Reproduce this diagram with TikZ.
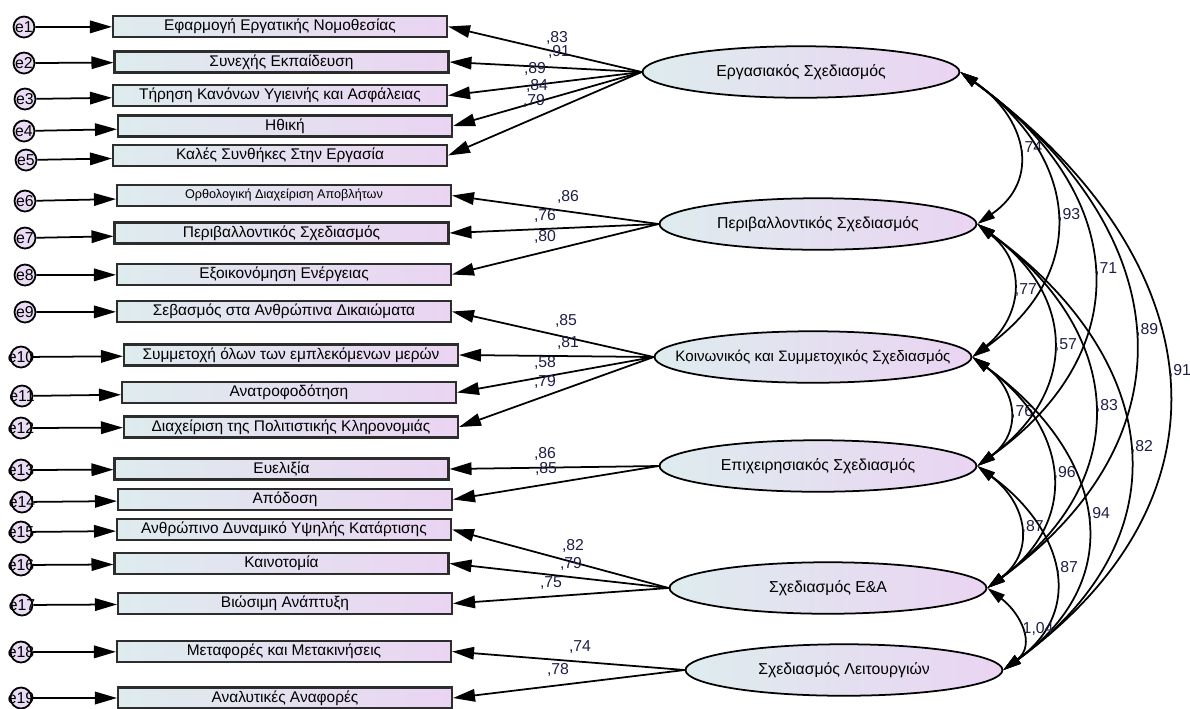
\documentclass[tikz,border=0pt]{standalone}
\usepackage{fontspec}
\setmainfont{Liberation Sans}
\usetikzlibrary{shapes.geometric,arrows.meta}

\definecolor{boxleft}{RGB}{222,236,238}
\definecolor{boxright}{RGB}{234,212,242}
\definecolor{boxline}{RGB}{45,45,45}
\definecolor{errfill}{RGB}{234,220,244}
\definecolor{coefcol}{RGB}{30,30,70}

\tikzset{
  indicator/.style={rectangle, draw=boxline, line width=1.2pt, left color=boxleft, right color=boxright,
    minimum width=6.68cm, minimum height=0.42cm, inner sep=0pt, font=\fontsize{8.8}{10}\selectfont},
  factor/.style={ellipse, draw=black, line width=1pt, left color=boxleft, right color=boxright,
    minimum width=6.34cm, minimum height=1.03cm, inner sep=0pt, font=\fontsize{9}{10}\selectfont},
  errterm/.style={circle, draw=black, line width=1pt, fill=errfill, minimum size=0.42cm,
    inner sep=0pt, font=\fontsize{9}{10}\selectfont},
  loading/.style={line width=1pt, -{Triangle[length=0.44cm,width=0.25cm]}},
  corr/.style={line width=1pt, {Triangle[length=0.36cm,width=0.2cm]}-{Triangle[length=0.36cm,width=0.2cm]}},
  coef/.style={font=\fontsize{9}{10}\selectfont, text=coefcol, inner sep=1pt}
}

\begin{document}
\begin{tikzpicture}[x=0.02cm, y=-0.02cm]
    \useasboundingbox (0,0) rectangle (1190,708);

    % Observed variables
    \node[indicator] (v1) at (280,26.5) {Εφαρμογή Εργατικής Νομοθεσίας};
    \node[indicator] (v2) at (281.5,62) {Συνεχής Εκπαίδευση};
    \node[indicator] (v3) at (280,95.5) {Τήρηση Κανόνων Υγιεινής και Ασφάλειας};
    \node[indicator] (v4) at (285,126) {Ηθική};
    \node[indicator] (v5) at (280,155.5) {Καλές Συνθήκες Στην Εργασία};
    \node[indicator, font=\fontsize{7.2}{8}\selectfont] (v6) at (284,195.5) {Ορθολογική Διαχείριση Αποβλήτων};
    \node[indicator] (v7) at (281.5,233) {Περιβαλλοντικός Σχεδιασμός};
    \node[indicator] (v8) at (284,274.5) {Εξοικονόμηση Ενέργειας};
    \node[indicator] (v9) at (284,311.5) {Σεβασμός στα Ανθρώπινα Δικαιώματα};
    \node[indicator] (v10) at (291,355) {Συμμετοχή όλων των εμπλεκόμενων μερών};
    \node[indicator] (v11) at (289,392.5) {Ανατροφοδότηση};
    \node[indicator] (v12) at (291,427) {Διαχείριση της Πολιτιστικής Κληρονομιάς};
    \node[indicator] (v13) at (281.5,469) {Ευελιξία};
    \node[indicator] (v14) at (285,499.5) {Απόδοση};
    \node[indicator] (v15) at (284,529.5) {Ανθρώπινο Δυναμικό Υψηλής Κατάρτισης};
    \node[indicator] (v16) at (281.5,563.5) {Καινοτομία};
    \node[indicator] (v17) at (285,603.5) {Βιώσιμη Ανάπτυξη};
    \node[indicator] (v18) at (284,651.5) {Μεταφορές και Μετακινήσεις};
    \node[indicator] (v19) at (285,698) {Αναλυτικές Αναφορές};

    % Error terms
    \node[errterm] (e1) at (24,27) {\makebox[0pt]{e1}};
    \node[errterm] (e2) at (24,63) {\makebox[0pt]{e2}};
    \node[errterm] (e3) at (25,99) {\makebox[0pt]{e3}};
    \node[errterm] (e4) at (24,131) {\makebox[0pt]{e4}};
    \node[errterm] (e5) at (26,160) {\makebox[0pt]{e5}};
    \node[errterm] (e6) at (25,201) {\makebox[0pt]{e6}};
    \node[errterm] (e7) at (25,238) {\makebox[0pt]{e7}};
    \node[errterm] (e8) at (25,275) {\makebox[0pt]{e8}};
    \node[errterm] (e9) at (25,312) {\makebox[0pt]{e9}};
    \node[errterm] (e10) at (21,357) {\makebox[0pt]{e10}};
    \node[errterm] (e11) at (22,396) {\makebox[0pt]{e11}};
    \node[errterm] (e12) at (21,428) {\makebox[0pt]{e12}};
    \node[errterm] (e13) at (21,470) {\makebox[0pt]{e13}};
    \node[errterm] (e14) at (22,502) {\makebox[0pt]{e14}};
    \node[errterm] (e15) at (21,532) {\makebox[0pt]{e15}};
    \node[errterm] (e16) at (21,565) {\makebox[0pt]{e16}};
    \node[errterm] (e17) at (22,605) {\makebox[0pt]{e17}};
    \node[errterm] (e18) at (21,652) {\makebox[0pt]{e18}};
    \node[errterm] (e19) at (21,698) {\makebox[0pt]{e19}};

    \foreach \i in {1,...,19}
        \draw[loading] (e\i) -- (v\i);

    % Latent factors
    \node[factor] (F1) at (801,72) {Εργασιακός Σχεδιασμός};
    \node[factor] (F2) at (818,224) {Περιβαλλοντικός Σχεδιασμός};
    \node[factor, font=\fontsize{8.6}{10}\selectfont] (F3) at (813,357) {\makebox[0pt]{Κοινωνικός και Συμμετοχικός Σχεδιασμός}};
    \node[factor] (F4) at (818,466) {Επιχειρησιακός Σχεδιασμός};
    \node[factor] (F5) at (828,588) {Σχεδιασμός Ε\&Α};
    \node[factor] (F6) at (844,670) {Σχεδιασμός Λειτουργιών};

    % Loadings
    \foreach \i in {1,...,5}
        \draw[loading] (F1.west) -- (v\i.east);
    \foreach \i in {6,7,8}
        \draw[loading] (F2.west) -- (v\i.east);
    \foreach \i in {9,...,12}
        \draw[loading] (F3.west) -- (v\i.east);
    \foreach \i in {13,14}
        \draw[loading] (F4.west) -- (v\i.east);
    \foreach \i in {15,16,17}
        \draw[loading] (F5.west) -- (v\i.east);
    \foreach \i in {18,19}
        \draw[loading] (F6.west) -- (v\i.east);

    \node[coef] (l1) at (557,38) {,83};
    \node[coef] (l2) at (559,52) {,91};
    \node[coef] (l3) at (535,69) {,89};
    \node[coef] (l4) at (537,86) {,84};
    \node[coef] (l5) at (534,101) {,79};
    \node[coef] (l6) at (568,197) {,86};
    \node[coef] (l7) at (545,216) {,76};
    \node[coef] (l8) at (545,237) {,80};
    \node[coef] (l9) at (566,321) {,85};
    \node[coef] (l10) at (568,343) {,81};
    \node[coef] (l11) at (545,363) {,58};
    \node[coef] (l12) at (545,382) {,79};
    \node[coef] (l13) at (545,454) {,86};
    \node[coef] (l14) at (546,469) {,85};
    \node[coef] (l15) at (573,546) {,82};
    \node[coef] (l16) at (571,564) {,79};
    \node[coef] (l17) at (551,583) {,75};
    \node[coef] (l18) at (580,647) {,74};
    \node[coef] (l19) at (558,670) {,78};

    % Correlations
    \draw[corr] (F1.east) .. controls +(65,45) and +(65,-45) .. (F2.east) node[coef, midway, right] (c12) {,74};
    \draw[corr] (F1.east) .. controls +(119,85) and +(119,-85) .. (F3.east) node[coef, midway, right] (c13) {,93};
    \draw[corr] (F1.east) .. controls +(165,118) and +(165,-118) .. (F4.east) node[coef, midway, right] (c14) {,71};
    \draw[corr] (F1.east) .. controls +(213,155) and +(213,-155) .. (F5.east) node[coef, midway, right] (c15) {,89};
    \draw[corr] (F1.east) .. controls +(246,180) and +(246,-180) .. (F6.east) node[coef, midway, right] (c16) {,91};
    \draw[corr] (F2.east) .. controls +(50,40) and +(50,-40) .. (F3.east) node[coef, midway, right] (c23) {,77};
    \draw[corr] (F2.east) .. controls +(100,73) and +(100,-73) .. (F4.east) node[coef, midway, right] (c24) {,57};
    \draw[corr] (F2.east) .. controls +(148,109) and +(148,-109) .. (F5.east) node[coef, midway, right] (c25) {,83};
    \draw[corr] (F2.east) .. controls +(184,134) and +(184,-134) .. (F6.east) node[coef, midway, right] (c26) {,82};
    \draw[corr] (F3.east) .. controls +(45,33) and +(45,-33) .. (F4.east) node[coef, midway, right] (c34) {,76};
    \draw[corr] (F3.east) .. controls +(95,69) and +(95,-69) .. (F5.east) node[coef, midway, right] (c35) {,96};
    \draw[corr] (F3.east) .. controls +(130,94) and +(130,-94) .. (F6.east) node[coef, midway, right] (c36) {,94};
    \draw[corr] (F4.east) .. controls +(49,37) and +(49,-37) .. (F5.east) node[coef, midway, right] (c45) {,87};
    \draw[corr] (F4.east) .. controls +(84,61) and +(84,-61) .. (F6.east) node[coef, midway, right] (c46) {,87};
    \draw[corr] (F5.east) .. controls +(33,25) and +(33,-25) .. (F6.east) node[coef, midway, right] (c56) {1,04};
\end{tikzpicture}
\end{document}
